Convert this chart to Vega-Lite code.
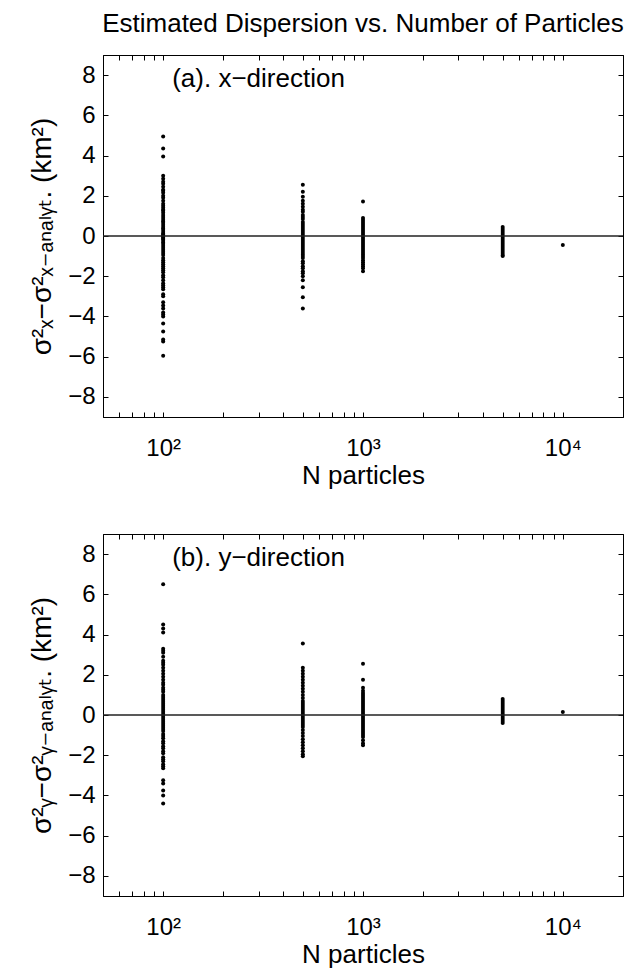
{
  "$schema": "https://vega.github.io/schema/vega-lite/v6.json",
  "background": "white",
  "padding": {"left": 28, "top": 10, "right": 2, "bottom": 2},
  "config": {
    "font": "Liberation Sans",
    "view": {"stroke": "black", "strokeWidth": 1},
    "axis": {
      "grid": false,
      "domainColor": "black",
      "tickColor": "black",
      "labelColor": "black",
      "titleColor": "black",
      "labelFontSize": 24,
      "titleFontSize": 26,
      "titleFontWeight": "normal",
      "labelFont": "Liberation Sans",
      "titleFont": "Liberation Sans, DejaVu Sans",
      "tickSize": -5,
      "labelOverlap": false,
      "labelFlush": false
    },
    "title": {"fontSize": 26, "fontWeight": "normal", "color": "black", "font": "Liberation Sans"}
  },
  "datasets": {
    "a": [
      {"N": 100, "d": 4.95}, {"N": 100, "d": 4.35}, {"N": 100, "d": 3.95}, {"N": 100, "d": 3.0}, {"N": 100, "d": 2.85},
      {"N": 100, "d": 2.7}, {"N": 100, "d": 2.6}, {"N": 100, "d": 2.45}, {"N": 100, "d": 2.3}, {"N": 100, "d": 2.25},
      {"N": 100, "d": 2.15}, {"N": 100, "d": 2.0}, {"N": 100, "d": 1.9}, {"N": 100, "d": 1.75}, {"N": 100, "d": 1.6},
      {"N": 100, "d": 1.5}, {"N": 100, "d": 1.4}, {"N": 100, "d": 1.3}, {"N": 100, "d": 1.25}, {"N": 100, "d": 1.15},
      {"N": 100, "d": 1.05}, {"N": 100, "d": 0.95}, {"N": 100, "d": 0.85}, {"N": 100, "d": 0.75}, {"N": 100, "d": 0.7},
      {"N": 100, "d": 0.6}, {"N": 100, "d": 0.5}, {"N": 100, "d": 0.4}, {"N": 100, "d": 0.35}, {"N": 100, "d": 0.25},
      {"N": 100, "d": 0.15}, {"N": 100, "d": 0.1}, {"N": 100, "d": 0.05}, {"N": 100, "d": 0.0}, {"N": 100, "d": -0.05},
      {"N": 100, "d": -0.1}, {"N": 100, "d": -0.15}, {"N": 100, "d": -0.2}, {"N": 100, "d": -0.3}, {"N": 100, "d": -0.35},
      {"N": 100, "d": -0.45}, {"N": 100, "d": -0.55}, {"N": 100, "d": -0.65}, {"N": 100, "d": -0.75}, {"N": 100, "d": -0.85},
      {"N": 100, "d": -0.95}, {"N": 100, "d": -1.1}, {"N": 100, "d": -1.2}, {"N": 100, "d": -1.3}, {"N": 100, "d": -1.4},
      {"N": 100, "d": -1.5}, {"N": 100, "d": -1.6}, {"N": 100, "d": -1.7}, {"N": 100, "d": -1.8}, {"N": 100, "d": -1.95},
      {"N": 100, "d": -2.05}, {"N": 100, "d": -2.2}, {"N": 100, "d": -2.35}, {"N": 100, "d": -2.45}, {"N": 100, "d": -2.55},
      {"N": 100, "d": -2.65}, {"N": 100, "d": -2.9}, {"N": 100, "d": -3.0}, {"N": 100, "d": -3.3}, {"N": 100, "d": -3.45},
      {"N": 100, "d": -3.6}, {"N": 100, "d": -3.8}, {"N": 100, "d": -3.9}, {"N": 100, "d": -4.0}, {"N": 100, "d": -4.35},
      {"N": 100, "d": -4.75}, {"N": 100, "d": -5.15}, {"N": 100, "d": -5.25}, {"N": 100, "d": -5.95},
      {"N": 500, "d": 2.55}, {"N": 500, "d": 2.2}, {"N": 500, "d": 1.95}, {"N": 500, "d": 1.75}, {"N": 500, "d": 1.6},
      {"N": 500, "d": 1.45}, {"N": 500, "d": 1.3}, {"N": 500, "d": 1.2}, {"N": 500, "d": 1.05}, {"N": 500, "d": 0.95},
      {"N": 500, "d": 0.85}, {"N": 500, "d": 0.7}, {"N": 500, "d": 0.6}, {"N": 500, "d": 0.5}, {"N": 500, "d": 0.4},
      {"N": 500, "d": 0.3}, {"N": 500, "d": 0.2}, {"N": 500, "d": 0.1}, {"N": 500, "d": 0.0}, {"N": 500, "d": -0.1},
      {"N": 500, "d": -0.2}, {"N": 500, "d": -0.3}, {"N": 500, "d": -0.4}, {"N": 500, "d": -0.5}, {"N": 500, "d": -0.6},
      {"N": 500, "d": -0.7}, {"N": 500, "d": -0.8}, {"N": 500, "d": -0.9}, {"N": 500, "d": -1.0}, {"N": 500, "d": -1.1},
      {"N": 500, "d": -1.25}, {"N": 500, "d": -1.35}, {"N": 500, "d": -1.5}, {"N": 500, "d": -1.6}, {"N": 500, "d": -1.75},
      {"N": 500, "d": -1.85}, {"N": 500, "d": -2.0}, {"N": 500, "d": -2.2}, {"N": 500, "d": -2.55}, {"N": 500, "d": -3.05},
      {"N": 500, "d": -3.6},
      {"N": 1000, "d": 1.72}, {"N": 1000, "d": 0.9}, {"N": 1000, "d": 0.8}, {"N": 1000, "d": 0.7}, {"N": 1000, "d": 0.6},
      {"N": 1000, "d": 0.5}, {"N": 1000, "d": 0.4}, {"N": 1000, "d": 0.3}, {"N": 1000, "d": 0.2}, {"N": 1000, "d": 0.1},
      {"N": 1000, "d": 0.0}, {"N": 1000, "d": -0.1}, {"N": 1000, "d": -0.2}, {"N": 1000, "d": -0.3}, {"N": 1000, "d": -0.4},
      {"N": 1000, "d": -0.5}, {"N": 1000, "d": -0.6}, {"N": 1000, "d": -0.7}, {"N": 1000, "d": -0.8}, {"N": 1000, "d": -0.9},
      {"N": 1000, "d": -1.0}, {"N": 1000, "d": -1.1}, {"N": 1000, "d": -1.2}, {"N": 1000, "d": -1.3}, {"N": 1000, "d": -1.4},
      {"N": 1000, "d": -1.5}, {"N": 1000, "d": -1.6}, {"N": 1000, "d": -1.75},
      {"N": 5000, "d": 0.45}, {"N": 5000, "d": 0.35}, {"N": 5000, "d": 0.25}, {"N": 5000, "d": 0.15}, {"N": 5000, "d": 0.05},
      {"N": 5000, "d": -0.05}, {"N": 5000, "d": -0.15}, {"N": 5000, "d": -0.25}, {"N": 5000, "d": -0.35}, {"N": 5000, "d": -0.45},
      {"N": 5000, "d": -0.55}, {"N": 5000, "d": -0.65}, {"N": 5000, "d": -0.75}, {"N": 5000, "d": -0.85}, {"N": 5000, "d": -0.95},
      {"N": 5000, "d": -1.0},
      {"N": 10000, "d": -0.45}
    ],
    "b": [
      {"N": 100, "d": 6.5}, {"N": 100, "d": 4.5}, {"N": 100, "d": 4.3}, {"N": 100, "d": 4.1}, {"N": 100, "d": 3.3},
      {"N": 100, "d": 3.2}, {"N": 100, "d": 3.1}, {"N": 100, "d": 2.9}, {"N": 100, "d": 2.7}, {"N": 100, "d": 2.6},
      {"N": 100, "d": 2.5}, {"N": 100, "d": 2.35}, {"N": 100, "d": 2.2}, {"N": 100, "d": 2.05}, {"N": 100, "d": 1.9},
      {"N": 100, "d": 1.75}, {"N": 100, "d": 1.6}, {"N": 100, "d": 1.5}, {"N": 100, "d": 1.35}, {"N": 100, "d": 1.25},
      {"N": 100, "d": 1.15}, {"N": 100, "d": 1.0}, {"N": 100, "d": 0.9}, {"N": 100, "d": 0.8}, {"N": 100, "d": 0.7},
      {"N": 100, "d": 0.6}, {"N": 100, "d": 0.5}, {"N": 100, "d": 0.4}, {"N": 100, "d": 0.3}, {"N": 100, "d": 0.2},
      {"N": 100, "d": 0.1}, {"N": 100, "d": 0.0}, {"N": 100, "d": -0.1}, {"N": 100, "d": -0.2}, {"N": 100, "d": -0.3},
      {"N": 100, "d": -0.4}, {"N": 100, "d": -0.5}, {"N": 100, "d": -0.6}, {"N": 100, "d": -0.7}, {"N": 100, "d": -0.8},
      {"N": 100, "d": -0.95}, {"N": 100, "d": -1.05}, {"N": 100, "d": -1.15}, {"N": 100, "d": -1.3}, {"N": 100, "d": -1.4},
      {"N": 100, "d": -1.55}, {"N": 100, "d": -1.65}, {"N": 100, "d": -1.8}, {"N": 100, "d": -1.9}, {"N": 100, "d": -2.1},
      {"N": 100, "d": -2.2}, {"N": 100, "d": -2.3}, {"N": 100, "d": -2.45}, {"N": 100, "d": -2.55}, {"N": 100, "d": -2.65},
      {"N": 100, "d": -3.25}, {"N": 100, "d": -3.4}, {"N": 100, "d": -3.75}, {"N": 100, "d": -4.0}, {"N": 100, "d": -4.4},
      {"N": 500, "d": 3.55}, {"N": 500, "d": 2.35}, {"N": 500, "d": 2.2}, {"N": 500, "d": 2.05}, {"N": 500, "d": 1.9},
      {"N": 500, "d": 1.75}, {"N": 500, "d": 1.6}, {"N": 500, "d": 1.45}, {"N": 500, "d": 1.3}, {"N": 500, "d": 1.15},
      {"N": 500, "d": 1.0}, {"N": 500, "d": 0.85}, {"N": 500, "d": 0.7}, {"N": 500, "d": 0.6}, {"N": 500, "d": 0.5},
      {"N": 500, "d": 0.4}, {"N": 500, "d": 0.3}, {"N": 500, "d": 0.2}, {"N": 500, "d": 0.1}, {"N": 500, "d": 0.0},
      {"N": 500, "d": -0.1}, {"N": 500, "d": -0.2}, {"N": 500, "d": -0.3}, {"N": 500, "d": -0.4}, {"N": 500, "d": -0.5},
      {"N": 500, "d": -0.6}, {"N": 500, "d": -0.75}, {"N": 500, "d": -0.9}, {"N": 500, "d": -1.05}, {"N": 500, "d": -1.2},
      {"N": 500, "d": -1.35}, {"N": 500, "d": -1.5}, {"N": 500, "d": -1.65}, {"N": 500, "d": -1.8}, {"N": 500, "d": -1.95},
      {"N": 500, "d": -2.05},
      {"N": 1000, "d": 2.55}, {"N": 1000, "d": 1.75}, {"N": 1000, "d": 1.35}, {"N": 1000, "d": 1.2}, {"N": 1000, "d": 1.1},
      {"N": 1000, "d": 1.0}, {"N": 1000, "d": 0.9}, {"N": 1000, "d": 0.8}, {"N": 1000, "d": 0.7}, {"N": 1000, "d": 0.6},
      {"N": 1000, "d": 0.5}, {"N": 1000, "d": 0.4}, {"N": 1000, "d": 0.3}, {"N": 1000, "d": 0.2}, {"N": 1000, "d": 0.1},
      {"N": 1000, "d": 0.0}, {"N": 1000, "d": -0.1}, {"N": 1000, "d": -0.2}, {"N": 1000, "d": -0.3}, {"N": 1000, "d": -0.4},
      {"N": 1000, "d": -0.5}, {"N": 1000, "d": -0.6}, {"N": 1000, "d": -0.7}, {"N": 1000, "d": -0.8}, {"N": 1000, "d": -0.9},
      {"N": 1000, "d": -1.0}, {"N": 1000, "d": -1.1}, {"N": 1000, "d": -1.25}, {"N": 1000, "d": -1.4}, {"N": 1000, "d": -1.5},
      {"N": 5000, "d": 0.8}, {"N": 5000, "d": 0.7}, {"N": 5000, "d": 0.6}, {"N": 5000, "d": 0.5}, {"N": 5000, "d": 0.4},
      {"N": 5000, "d": 0.3}, {"N": 5000, "d": 0.2}, {"N": 5000, "d": 0.1}, {"N": 5000, "d": 0.0}, {"N": 5000, "d": -0.1},
      {"N": 5000, "d": -0.2}, {"N": 5000, "d": -0.3}, {"N": 5000, "d": -0.4},
      {"N": 10000, "d": 0.15}
    ]
  },
  "spacing": 44,
  "vconcat": [
    {
      "title": {"text": "Estimated Dispersion vs. Number of Particles", "anchor": "middle", "offset": 18},
      "width": 520,
      "height": 362,
      "resolve": {"axis": {"x": "independent", "y": "independent"}},
      "layer": [
        {
          "data": {"name": "a"},
          "mark": {"type": "circle", "size": 16, "color": "black", "opacity": 1},
          "encoding": {
            "x": {"field": "N", "type": "quantitative",
              "scale": {"type": "log", "domain": [50, 20000], "nice": false},
              "axis": {"orient": "bottom", "title": "N particles", "titlePadding": 2,
                "values": [60, 70, 80, 90, 100, 200, 300, 400, 500, 600, 700, 800, 900, 1000, 2000, 3000, 4000, 5000, 6000, 7000, 8000, 9000, 10000],
                "labelExpr": "datum.value === 100 ? '10²' : datum.value === 1000 ? '10³' : datum.value === 10000 ? '10⁴' : ''",
                "labelPadding": 24}},
            "y": {"field": "d", "type": "quantitative",
              "scale": {"domain": [-9, 9], "nice": false, "zero": false},
              "axis": {"orient": "left", "title": "σ²ₓ−σ²ₓ₋ₐₙₐₗᵧₜ. (km²)", "titlePadding": 11, "titleFontSize": 28,
                "values": [-8, -6, -4, -2, 0, 2, 4, 6, 8], "labelPadding": 13}}
          }
        },
        {
          "data": {"values": [{}]},
          "mark": {"type": "rule", "color": "#222222", "strokeWidth": 1.3},
          "encoding": {"y": {"datum": 0, "type": "quantitative", "axis": null}}
        },
        {
          "data": {"values": [{}]},
          "mark": {"type": "text", "align": "left", "baseline": "middle", "fontSize": 26, "color": "black"},
          "encoding": {
            "x": {"datum": 111, "type": "quantitative", "axis": null},
            "y": {"datum": 7.8, "type": "quantitative", "axis": null},
            "text": {"value": "(a). x−direction"}
          }
        },
        {
          "data": {"name": "a"},
          "mark": {"type": "point", "opacity": 0},
          "encoding": {
            "x": {"field": "N", "type": "quantitative",
              "scale": {"type": "log", "domain": [50, 20000], "nice": false},
              "axis": {"orient": "top", "title": null, "labels": false,
                "values": [60, 70, 80, 90, 100, 200, 300, 400, 500, 600, 700, 800, 900, 1000, 2000, 3000, 4000, 5000, 6000, 7000, 8000, 9000, 10000]}},
            "y": {"field": "d", "type": "quantitative",
              "scale": {"domain": [-9, 9], "nice": false, "zero": false},
              "axis": {"orient": "right", "title": null, "labels": false, "values": [-8, -6, -4, -2, 0, 2, 4, 6, 8]}}
          }
        }
      ]
    },
    {
      "width": 520,
      "height": 362,
      "resolve": {"axis": {"x": "independent", "y": "independent"}},
      "layer": [
        {
          "data": {"name": "b"},
          "mark": {"type": "circle", "size": 16, "color": "black", "opacity": 1},
          "encoding": {
            "x": {"field": "N", "type": "quantitative",
              "scale": {"type": "log", "domain": [50, 20000], "nice": false},
              "axis": {"orient": "bottom", "title": "N particles", "titlePadding": 2,
                "values": [60, 70, 80, 90, 100, 200, 300, 400, 500, 600, 700, 800, 900, 1000, 2000, 3000, 4000, 5000, 6000, 7000, 8000, 9000, 10000],
                "labelExpr": "datum.value === 100 ? '10²' : datum.value === 1000 ? '10³' : datum.value === 10000 ? '10⁴' : ''",
                "labelPadding": 24}},
            "y": {"field": "d", "type": "quantitative",
              "scale": {"domain": [-9, 9], "nice": false, "zero": false},
              "axis": {"orient": "left", "title": "σ²ᵧ−σ²ᵧ₋ₐₙₐₗᵧₜ. (km²)", "titlePadding": 11, "titleFontSize": 28,
                "values": [-8, -6, -4, -2, 0, 2, 4, 6, 8], "labelPadding": 13}}
          }
        },
        {
          "data": {"values": [{}]},
          "mark": {"type": "rule", "color": "#222222", "strokeWidth": 1.3},
          "encoding": {"y": {"datum": 0, "type": "quantitative", "axis": null}}
        },
        {
          "data": {"values": [{}]},
          "mark": {"type": "text", "align": "left", "baseline": "middle", "fontSize": 26, "color": "black"},
          "encoding": {
            "x": {"datum": 111, "type": "quantitative", "axis": null},
            "y": {"datum": 7.8, "type": "quantitative", "axis": null},
            "text": {"value": "(b). y−direction"}
          }
        },
        {
          "data": {"name": "b"},
          "mark": {"type": "point", "opacity": 0},
          "encoding": {
            "x": {"field": "N", "type": "quantitative",
              "scale": {"type": "log", "domain": [50, 20000], "nice": false},
              "axis": {"orient": "top", "title": null, "labels": false,
                "values": [60, 70, 80, 90, 100, 200, 300, 400, 500, 600, 700, 800, 900, 1000, 2000, 3000, 4000, 5000, 6000, 7000, 8000, 9000, 10000]}},
            "y": {"field": "d", "type": "quantitative",
              "scale": {"domain": [-9, 9], "nice": false, "zero": false},
              "axis": {"orient": "right", "title": null, "labels": false, "values": [-8, -6, -4, -2, 0, 2, 4, 6, 8]}}
          }
        }
      ]
    }
  ]
}
